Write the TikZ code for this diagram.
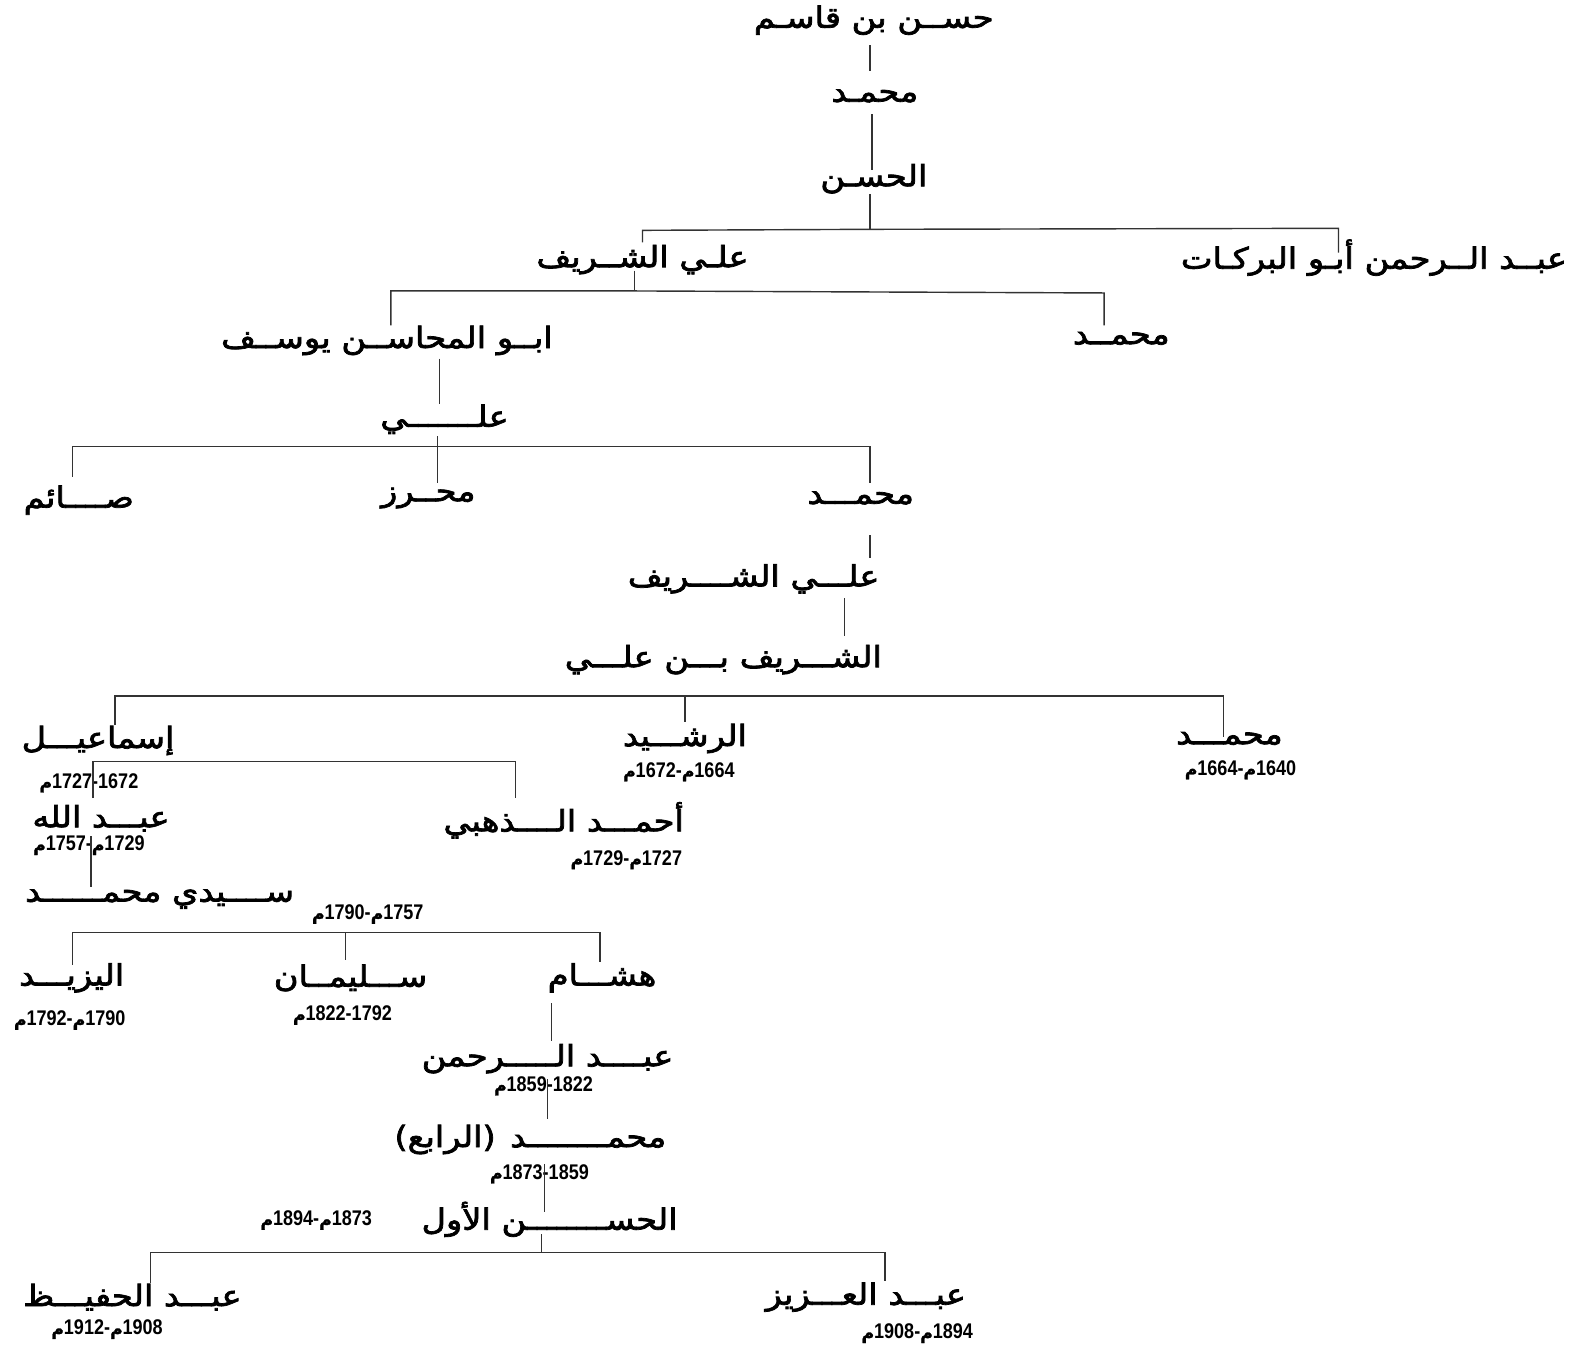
\documentclass[tikz,border=0pt]{standalone}
\usepackage{fontspec}
\TeXXeTstate=1
\newfontfamily\arabicfont[Script=Arabic,FakeStretch=1.15,FakeBold=2.5]{DejaVu Sans}
\newfontfamily\mfont[Script=Arabic,FakeBold=1.5]{DejaVu Sans}
\newfontfamily\datefont[FakeStretch=0.85]{Liberation Sans}
\newcommand\mm{\hbox{\mfont\fontsize{17}{17}\selectfont م}}
\tikzset{
  nm/.style={font=\arabicfont\fontsize{29}{29}\selectfont, inner sep=0pt, anchor=center},
  dt/.style={font=\datefont\bfseries\fontsize{21}{21}\selectfont, inner sep=0pt, anchor=center},
  ln/.style={line width=1.4pt, draw=black!80}
}
\begin{document}
\begin{tikzpicture}[x=1pt,y=-1pt]
\useasboundingbox (0,0) rectangle (1568,1334);
% names
\node[nm] (n1) at (865,20) {\beginR حســن بن قاسـم\endR};
\node[nm] (n2) at (866,95) {\beginR محمـد\endR};
\node[nm] (n3) at (865,177) {\beginR الحسـن\endR};
\node[nm] (n4) at (636,257) {\beginR علـي الشــريف\endR};
\node[nm] (n5) at (1360,255) {\beginR عبــد الــرحمن أبـو البركـات\endR};
\node[nm] (n6) at (383,337) {\beginR ابــو المحاســن يوســف\endR};
\node[nm] (n7) at (1110,335) {\beginR محمــد\endR};
\node[nm] (n8) at (440,415) {\beginR علـــــــي\endR};
\node[nm] (n9) at (78,495) {\beginR صــــائم\endR};
\node[nm] (n10) at (424,493) {\beginR محــرز\endR};
\node[nm] (n11) at (852,493) {\beginR محمـــد\endR};
\node[nm] (n12) at (746,573) {\beginR علـــي الشــــريف\endR};
\node[nm] (n13) at (716,653) {\beginR الشـــريف بـــن علـــي\endR};
\node[nm] (n14) at (97,733) {\beginR إسماعيـــل\endR};
\node[nm] (n15) at (678,731) {\beginR الرشـــيد\endR};
\node[nm] (n16) at (1217,731) {\beginR محمـــد\endR};
\node[nm] (n17) at (100,810) {\beginR عبـــد الله\endR};
\node[nm] (n18) at (558,812) {\beginR أحمـــد الــــذهبي\endR};
\node[nm] (n19) at (158,890) {\beginR ســــيدي محمــــــد\endR};
\node[nm] (n20) at (71,968) {\beginR اليزيـــد\endR};
\node[nm] (n21) at (347,968) {\beginR ســـليمــان\endR};
\node[nm] (n22) at (596,968) {\beginR هشـــام\endR};
\node[nm] (n23) at (542,1048) {\beginR عبــــد الـــــرحمن\endR};
\node[nm] (n24) at (525,1128) {\hbox{)}\hbox{\beginR الرابع\endR}\hbox{(}\hspace{0.5em}\hbox{\beginR محمــــــــد\endR}};
\node[nm] (n25) at (544,1207) {\beginR الحســــــــن الأول\endR};
\node[nm] (n26) at (131,1284) {\beginR عبـــد الحفيـــظ\endR};
\node[nm] (n27) at (857,1284) {\beginR عبـــد العـــزيز\endR};
% dates
\node[dt] (d14) at (88,775) {\mm1727-1672};
\node[dt] (d15) at (672,764) {\mm1672-\mm1664};
\node[dt] (d16) at (1228,762) {\mm1664-\mm1640};
\node[dt] (d17) at (88,837) {\mm1757-\mm1729};
\node[dt] (d18) at (620,851) {\mm1729-\mm1727};
\node[dt] (d19) at (364,905) {\mm1790-\mm1757};
\node[dt] (d20) at (69,1010) {\mm1792-\mm1790};
\node[dt] (d21) at (339,1005) {\mm1822-1792};
\node[dt] (d23) at (538,1075) {\mm1859-1822};
\node[dt] (d24) at (534,1162) {\mm1873-1859};
\node[dt] (d25) at (313,1208) {\mm1894-\mm1873};
\node[dt] (d26) at (106,1316) {\mm1912-\mm1908};
\node[dt] (d27) at (908,1320) {\mm1908-\mm1894};
% connector points
\coordinate (a1) at (861,45); \coordinate (a2) at (861,70);
\coordinate (b1) at (863,113); \coordinate (b2) at (863,168);
\coordinate (c1) at (861,192); \coordinate (c2) at (861,227);
\coordinate (c3) at (636,228); \coordinate (c4) at (636,240);
\coordinate (c5) at (1325,226); \coordinate (c6) at (1325,250);
\coordinate (e1) at (628,268); \coordinate (e2) at (628,288);
\coordinate (e3) at (387,288); \coordinate (e4) at (387,322);
\coordinate (e5) at (1093,290); \coordinate (e6) at (1093,322);
\coordinate (f1) at (435,355); \coordinate (f2) at (435,400);
\coordinate (g1) at (72,442); \coordinate (g2) at (72,472);
\coordinate (g0) at (433,442);
\coordinate (g3) at (433,432); \coordinate (g4) at (433,478);
\coordinate (g5) at (861,442); \coordinate (g6) at (861,478);
\coordinate (h1) at (861,530); \coordinate (h2) at (861,552);
\coordinate (i1) at (836,592); \coordinate (i2) at (836,630);
\coordinate (k1) at (114,689); \coordinate (k2) at (114,718);
\coordinate (k3) at (678,689); \coordinate (k4) at (678,715);
\coordinate (k5) at (1211,689); \coordinate (k6) at (1211,730);
\coordinate (m1) at (92,754); \coordinate (m2) at (92,790);
\coordinate (m3) at (510,754); \coordinate (m4) at (510,790);
\coordinate (p1) at (90,828); \coordinate (p2) at (90,878);
\coordinate (q1) at (72,923); \coordinate (q2) at (72,955);
\coordinate (q3) at (342,923); \coordinate (q4) at (342,950);
\coordinate (q5) at (594,923); \coordinate (q6) at (594,952);
\coordinate (r1) at (546,993); \coordinate (r2) at (546,1030);
\coordinate (s1) at (542,1068); \coordinate (s2) at (542,1108);
\coordinate (t1) at (539,1152); \coordinate (t2) at (539,1200);
\coordinate (u1) at (536,1222); \coordinate (u2) at (536,1240);
\coordinate (u3) at (149,1240); \coordinate (u4) at (149,1270);
\coordinate (u5) at (876,1240); \coordinate (u6) at (876,1268);
% connectors
\draw[ln] (a1) -- (a2);
\draw[ln] (b1) -- (b2);
\draw[ln] (c1) -- (c2);
\draw[ln] (c4) -- (c3) -- (c2) -- (c5) -- (c6);
\draw[ln] (e1) -- (e2);
\draw[ln] (e4) -- (e3) -- (e2) -- (e5) -- (e6);
\draw[ln] (f1) -- (f2);
\draw[ln] (g2) -- (g1) -- (g0) -- (g5) -- (g6);
\draw[ln] (g3) -- (g4);
\draw[ln] (h1) -- (h2);
\draw[ln] (i1) -- (i2);
\draw[ln] (k2) -- (k1) -- (k3) -- (k5) -- (k6);
\draw[ln] (k3) -- (k4);
\draw[ln] (m2) -- (m1) -- (m3) -- (m4);
\draw[ln] (p1) -- (p2);
\draw[ln] (q2) -- (q1) -- (q3) -- (q5) -- (q6);
\draw[ln] (q3) -- (q4);
\draw[ln] (r1) -- (r2);
\draw[ln] (s1) -- (s2);
\draw[ln] (t1) -- (t2);
\draw[ln] (u1) -- (u2);
\draw[ln] (u4) -- (u3) -- (u5) -- (u6);
\end{tikzpicture}
\end{document}
